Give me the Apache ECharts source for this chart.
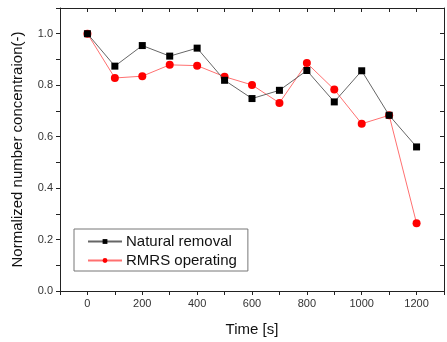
<!DOCTYPE html>
<html>
<head>
<meta charset="utf-8">
<script src="https://cdn.jsdelivr.net/npm/echarts@6/dist/echarts.min.js"></script>
<style>
  html, body { margin: 0; padding: 0; background: #fff; }
  #chart { width: 447px; height: 342px; }
</style>
</head>
<body>
<div id="chart"></div>
<script>
// Normalized number concentration over time, two conditions
const timeSec = [0, 100, 200, 300, 400, 500, 600, 700, 800, 900, 1000, 1100, 1200];
const naturalRemoval = [1.0, 0.874, 0.954, 0.913, 0.944, 0.819, 0.748, 0.780, 0.857, 0.735, 0.856, 0.683, 0.560];
const rmrsOperating = [1.0, 0.828, 0.835, 0.879, 0.876, 0.833, 0.801, 0.731, 0.886, 0.783, 0.650, 0.683, 0.263];

const FONT = "'Liberation Sans', Arial, sans-serif";
const AXIS = "#222";

const pairs = (ys) => timeSec.map((t, i) => [t, ys[i]]);

const chart = echarts.init(document.getElementById("chart"), null, { renderer: "canvas" });

const frameX = (pos, inside) => ({
  type: "value",
  position: pos,
  min: -100, max: 1300, interval: 100,
  axisLine: { show: true, onZero: false, lineStyle: { color: AXIS, width: 1 } },
  axisTick: { show: true, inside, length: 4, lineStyle: { color: AXIS } },
  splitLine: { show: false },
  axisLabel: pos === "bottom" ? {
    color: "#333", fontFamily: FONT, fontSize: 11, margin: 7,
    formatter: (v) => (v >= 0 && v <= 1200 && v % 200 === 0 ? String(v) : ""),
  } : { show: false },
});

const frameY = (pos, inside) => ({
  type: "value",
  position: pos,
  min: 0, max: 1.1, interval: 0.1,
  axisLine: { show: true, onZero: false, lineStyle: { color: AXIS, width: 1 } },
  axisTick: { show: true, inside, length: 4, lineStyle: { color: AXIS } },
  splitLine: { show: false },
  axisLabel: pos === "left" ? {
    color: "#333", fontFamily: FONT, fontSize: 11, margin: 7,
    formatter: (v) => (Math.round(v * 10) % 2 === 0 ? v.toFixed(1) : ""),
  } : { show: false },
});

chart.setOption({
  animation: false,
  grid: { left: 60, right: 1, top: 8, bottom: 49 },
  legend: {
    orient: "vertical",
    left: 74, top: 229,
    padding: [5, 11, 3, 13],
    itemGap: 4,
    itemWidth: 34, itemHeight: 6,
    borderColor: "#777", borderWidth: 1, borderRadius: 0,
    textStyle: { fontFamily: FONT, fontSize: 15, lineHeight: 15, color: "#111", padding: [0, 0, 0, -1] },
    data: ["Natural removal", "RMRS operating"],
  },
  xAxis: [
    Object.assign(frameX("bottom", false), {
      name: "Time [s]", nameLocation: "middle", nameGap: 31,
      nameTextStyle: { fontFamily: FONT, fontSize: 15, color: "#111" },
    }),
    frameX("top", true),
  ],
  yAxis: [
    Object.assign(frameY("left", false), {
      name: "Normalized number concentraion(-)", nameLocation: "middle", nameGap: 35,
      nameTextStyle: { fontFamily: FONT, fontSize: 15, color: "#111" },
    }),
    frameY("right", true),
  ],
  series: [
    {
      name: "Natural removal",
      type: "line",
      data: pairs(naturalRemoval),
      symbol: "rect", symbolSize: 7,
      lineStyle: { color: "#666", width: 1 },
      itemStyle: { color: "#000" },
      z: 3,
    },
    {
      name: "RMRS operating",
      type: "line",
      data: pairs(rmrsOperating),
      symbol: "circle", symbolSize: 8,
      lineStyle: { color: "#ff7070", width: 1 },
      itemStyle: { color: "#ff0000" },
      z: 2,
    },
  ],
});
</script>
</body>
</html>
